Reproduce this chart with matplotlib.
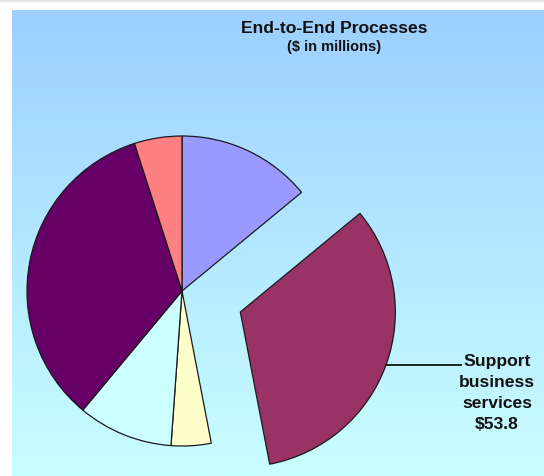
import numpy as np
import matplotlib
matplotlib.use("Agg")
import matplotlib.pyplot as plt
from matplotlib.colors import LinearSegmentedColormap

# ---- data (clockwise from 12 o'clock) ----
categories = ["Segment 1", "Support business services", "Segment 3",
              "Segment 4", "Segment 5", "Segment 6"]
values = [22.9, 53.8, 6.8, 16.2, 55.5, 8.1]
colors = ["#9999FF", "#993366", "#FFFFCC", "#CCFFFF", "#660066", "#FF8080"]
explode_frac = [0, 0.4, 0, 0, 0, 0]
title = "End-to-End Processes"
subtitle = "($ in millions)"
label_text = "Support\nbusiness\nservices\n$53.8"

plt.rcParams['font.family'] = ['Liberation Sans', 'DejaVu Sans']

W, H = 544, 477
fig = plt.figure(figsize=(W / 100, H / 100), dpi=100)
ax = fig.add_axes([0, 0, 1, 1])

# gradient background
cmap = LinearSegmentedColormap.from_list("bg", ["#C9FFFF", "#9DCFFF"])
grad = np.linspace(0, 1, 256).reshape(-1, 1)
ax.imshow(grad, cmap=cmap, extent=[12, 544, 0, 466], origin="lower",
          aspect="auto", zorder=0)
ax.axhspan(475.5, 477, color="#e4e4e4", zorder=0)

radius = 155
wedges, _ = ax.pie(values, colors=colors,
                   explode=[e * radius for e in explode_frac],
                   startangle=90, counterclock=False, center=(182, 185),
                   radius=radius,
                   wedgeprops=dict(edgecolor="#1a1a1a", linewidth=0.9),
                   frame=True)

ax.set_xlim(0, W)
ax.set_ylim(0, H)
ax.set_aspect("equal")
ax.axis("off")

# title
ax.text(334, 448.5, title, ha="center", va="center", fontsize=12.6,
        fontweight="bold", color="#111111")
ax.text(334, 429.5, subtitle, ha="center", va="center", fontsize=10.5,
        fontweight="bold", color="#111111")

# leader line and label
ax.plot([386, 461], [111, 111], color="#111111", linewidth=1.3)
ax.text(497, 84, label_text, ha="center", va="center", fontsize=12.6,
        fontweight="bold", color="#111111", linespacing=1.5)

fig.savefig("out.png", dpi=100, facecolor="white")
